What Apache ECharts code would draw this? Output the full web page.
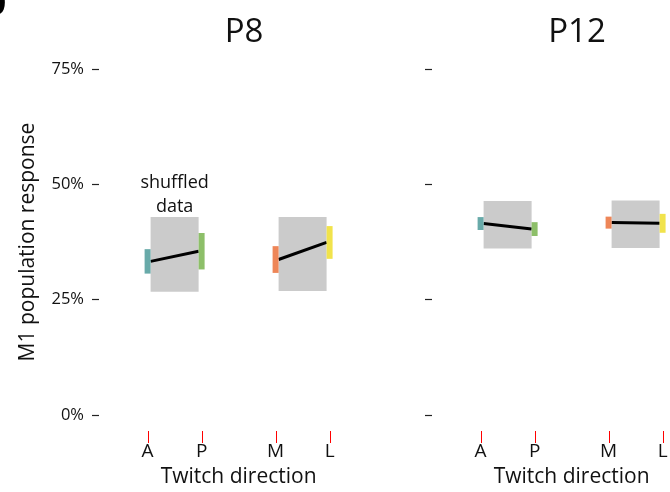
<!DOCTYPE html>
<html>
<head>
<meta charset="utf-8">
<script src="https://cdn.jsdelivr.net/npm/echarts@6/dist/echarts.min.js"></script>
<style>
  html, body { margin: 0; padding: 0; background: #fff; }
  #chart { width: 670px; height: 492px; }
</style>
</head>
<body>
<div id="chart"></div>
<script>
// Twitch directions and where they sit on the x axis (anterior/posterior pair, medial/lateral pair)
const directions = ['A', 'P', 'M', 'L'];
const directionPos = [0, 1, 2.37, 3.37];
const yTicks = [0, 25, 50, 75];

// Mean M1 population response (%) for each direction, with error half-widths
const p8Mean = [33.3, 35.5, 33.7, 37.4];
const p8Err = [2.65, 3.95, 2.9, 3.55];
const p12Mean = [41.5, 40.3, 41.7, 41.55];
const p12Err = [1.4, 1.5, 1.3, 2.05];

// Shuffled-data range for each direction pair (A–P, M–L): low and high bounds
const p8ShuffledLow = [26.7, 26.9];
const p8ShuffledHigh = [42.9, 42.9];
const p12ShuffledLow = [36.1, 36.2];
const p12ShuffledHigh = [46.4, 46.5];

const dirColors = ['#68aaa9', '#8dbf69', '#ee8658', '#f1e34c'];
const FONT = '"Open Sans", "Noto Sans", sans-serif';
const BAR_W = 6;
const X_AXIS_OFFSET = 16;   // x axis sits this far below the plot area
const X_TICK_LEN = 12;

// one data row per direction pair: [x1, x2, mean1, mean2, err1, err2, boxLow, boxHigh, colorIndex1]
function pairRows(mean, err, lo, hi) {
  const rows = [];
  for (let p = 0; p < 2; p++) {
    const i = p * 2, j = p * 2 + 1;
    rows.push([directionPos[i], directionPos[j], mean[i], mean[j], err[i], err[j], lo[p], hi[p], i]);
  }
  return rows;
}

function makeRenderer(withNote) {
  return function (params, api) {
    const x1 = api.value(0), x2 = api.value(1);
    const m1 = api.value(2), m2 = api.value(3);
    const e1 = api.value(4), e2 = api.value(5);
    const lo = api.value(6), hi = api.value(7);
    const ci = api.value(8);
    const half = BAR_W / 2;
    const a = api.coord([x1, m1]);
    const b = api.coord([x2, m2]);
    const boxTop = api.coord([x1, hi])[1];
    const boxBot = api.coord([x1, lo])[1];
    const left = a[0] + half, right = b[0] - half;
    const bar = (x, m, e, color) => {
      const t = api.coord([x, m + e])[1];
      const bt = api.coord([x, m - e])[1];
      const cx = api.coord([x, m])[0];
      return { type: 'rect', shape: { x: cx - half, y: t, width: BAR_W, height: bt - t }, style: { fill: color } };
    };
    const children = [
      { type: 'rect', shape: { x: left, y: boxTop, width: right - left, height: boxBot - boxTop }, style: { fill: '#cbcbcb' } },
      { type: 'line', shape: { x1: left, y1: a[1], x2: right, y2: b[1] }, style: { stroke: '#000', lineWidth: 3 } },
      bar(x1, m1, e1, dirColors[ci]),
      bar(x2, m2, e2, dirColors[ci + 1])
    ];
    if (withNote && params.dataIndex === 0) {
      children.push({
        type: 'text',
        style: {
          text: 'shuffled\ndata', x: (left + right) / 2, y: boxTop + 2,
          align: 'center', verticalAlign: 'bottom', fontSize: 18, lineHeight: 24,
          fontFamily: FONT, fill: '#111'
        }
      });
    }
    return { type: 'group', children };
  };
}

const xMin = -0.9, xMax = 4.27;
function xAxisFor(gridIndex) {
  return {
    type: 'value', gridIndex, min: xMin, max: xMax, offset: X_AXIS_OFFSET,
    axisLine: { show: false, onZero: false }, splitLine: { show: false },
    axisTick: { show: false },
    axisLabel: {
      customValues: directionPos, margin: 11, fontSize: 19, fontFamily: FONT, color: '#111',
      formatter: v => directions[directionPos.findIndex(p => Math.abs(p - v) < 1e-6)] || ''
    },
    name: 'Twitch direction', nameLocation: 'middle', nameGap: 36,
    nameTextStyle: { fontSize: 21, fontFamily: FONT, color: '#111' }
  };
}
function yAxisFor(gridIndex, labels) {
  const ax = {
    type: 'value', gridIndex, min: 0, max: 75, interval: 25,
    axisLine: { show: false, onZero: false }, splitLine: { show: false },
    axisTick: { show: true, length: 7, lineStyle: { color: '#222', width: 1.2 } },
    axisLabel: { show: labels, formatter: '{value}%', margin: 15, fontSize: 16.5, fontFamily: FONT, color: '#111' }
  };
  if (labels) {
    Object.assign(ax, {
      name: 'M1 population response', nameLocation: 'middle', nameGap: 60, nameRotate: 90,
      nameTextStyle: { fontSize: 21, fontFamily: FONT, color: '#111' }
    });
  }
  return ax;
}

const chart = echarts.init(document.getElementById('chart'), null, { renderer: 'canvas' });
chart.setOption({
  animation: false,
  backgroundColor: '#fff',
  title: [
    { text: 'P8', left: 239, top: 11, textAlign: 'center', textStyle: { fontSize: 33, fontWeight: 'normal', fontFamily: FONT, color: '#111' } },
    { text: 'P12', left: 572, top: 11, textAlign: 'center', textStyle: { fontSize: 33, fontWeight: 'normal', fontFamily: FONT, color: '#111' } }
  ],
  grid: [
    { left: 99, top: 69, width: 279.2, height: 346, outerBoundsMode: 'none', containLabel: false },
    { left: 432, top: 69, width: 279.2, height: 346, outerBoundsMode: 'none', containLabel: false }
  ],
  xAxis: [xAxisFor(0), xAxisFor(1)],
  yAxis: [yAxisFor(0, true), yAxisFor(1, false)],
  series: [
    {
      type: 'custom', xAxisIndex: 0, yAxisIndex: 0,
      renderItem: makeRenderer(true),
      data: pairRows(p8Mean, p8Err, p8ShuffledLow, p8ShuffledHigh)
    },
    {
      type: 'custom', xAxisIndex: 1, yAxisIndex: 1,
      renderItem: makeRenderer(false),
      data: pairRows(p12Mean, p12Err, p12ShuffledLow, p12ShuffledHigh)
    }
  ]
});

// corner panel letter plus direction ticks on each x axis, placed through the axis scale
const overlay = [
  { type: 'text', left: -21, top: -20, style: { text: 'b', fontSize: 44, fontWeight: 'bold', fontFamily: FONT, fill: '#000' } }
];
[0, 1].forEach(g => {
  directionPos.forEach(x => {
    const p = chart.convertToPixel({ xAxisIndex: g, yAxisIndex: g }, [x, 0]);
    if (!p) return;
    const y0 = Math.round(p[1] + X_AXIS_OFFSET);
    const xx = Math.round(p[0]);
    overlay.push({
      type: 'rect', z: 100,
      shape: { x: xx, y: y0, width: 1, height: X_TICK_LEN },
      style: { fill: '#ff0000' }
    });
  });
});
chart.setOption({ graphic: overlay });
</script>
</body>
</html>
